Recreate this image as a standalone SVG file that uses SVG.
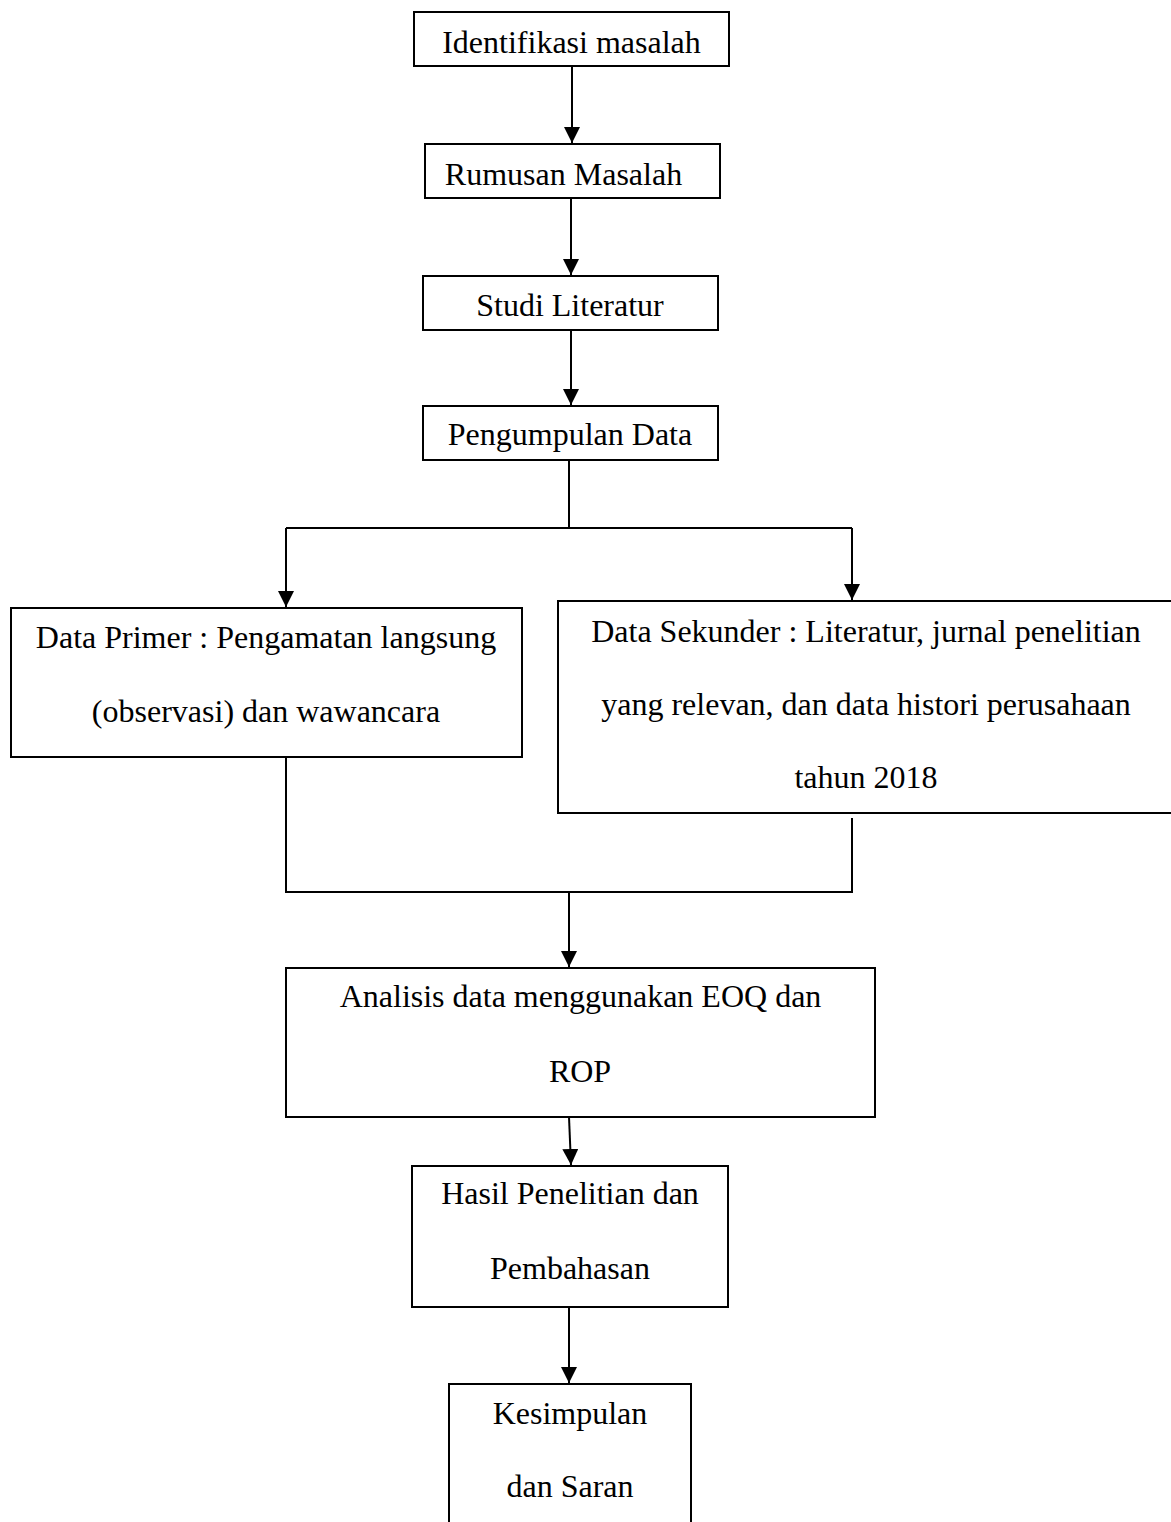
<svg xmlns="http://www.w3.org/2000/svg" width="1171" height="1522" viewBox="0 0 1171 1522">
<defs>
<style>
.box{fill:#fff;stroke:#000;stroke-width:2}
.t{font-family:"Liberation Serif","Times New Roman",serif;font-size:32px;fill:#000;text-anchor:middle}
.c{fill:none;stroke:#000;stroke-width:2}
</style>
<marker id="ah" viewBox="0 0 16 16" refX="16" refY="8" markerWidth="16" markerHeight="16" markerUnits="userSpaceOnUse" orient="auto">
<path d="M0,0 L16,8 L0,16 z" fill="#000"/>
</marker>
</defs>
<rect width="1171" height="1522" fill="#fff"/>
<g id="connectors">
<line class="c" x1="572" y1="66" x2="572" y2="143" marker-end="url(#ah)"/>
<line class="c" x1="571" y1="198" x2="571" y2="275" marker-end="url(#ah)"/>
<line class="c" x1="571" y1="330" x2="571" y2="405" marker-end="url(#ah)"/>
<polyline class="c" points="569,460 569,528"/>
<polyline class="c" points="286,528 852,528"/>
<line class="c" x1="286" y1="528" x2="286" y2="607" marker-end="url(#ah)"/>
<line class="c" x1="852" y1="528" x2="852" y2="600" marker-end="url(#ah)"/>
<polyline class="c" points="286,757 286,892 852,892 852,818"/>
<line class="c" x1="569" y1="892" x2="569" y2="967" marker-end="url(#ah)"/>
<line class="c" x1="569" y1="1117" x2="571" y2="1165" marker-end="url(#ah)"/>
<line class="c" x1="569" y1="1307" x2="569" y2="1383" marker-end="url(#ah)"/>
</g>
<g id="n1"><rect class="box" x="414" y="12" width="315" height="54"/><text class="t" x="571.5" y="53">Identifikasi masalah</text></g>
<g id="n2"><rect class="box" x="425" y="144" width="295" height="54"/><text class="t" x="563.5" y="185">Rumusan Masalah</text></g>
<g id="n3"><rect class="box" x="423" y="276" width="295" height="54"/><text class="t" x="570" y="316">Studi Literatur</text></g>
<g id="n4"><rect class="box" x="423" y="406" width="295" height="54"/><text class="t" x="570" y="445">Pengumpulan Data</text></g>
<g id="n5"><rect class="box" x="11" y="608" width="511" height="149"/><text class="t" x="266" y="648">Data Primer : Pengamatan langsung</text><text class="t" x="266" y="722">(observasi) dan wawancara</text></g>
<g id="n6"><rect class="box" x="558" y="601" width="620" height="212"/><text class="t" x="866" y="642">Data Sekunder : Literatur, jurnal penelitian</text><text class="t" x="866" y="715">yang relevan, dan data histori perusahaan</text><text class="t" x="866" y="788">tahun 2018</text></g>
<g id="n7"><rect class="box" x="286" y="968" width="589" height="149"/><text class="t" x="580.5" y="1007">Analisis data menggunakan EOQ dan</text><text class="t" x="580" y="1082">ROP</text></g>
<g id="n8"><rect class="box" x="412" y="1166" width="316" height="141"/><text class="t" x="570" y="1204">Hasil Penelitian dan</text><text class="t" x="570" y="1279">Pembahasan</text></g>
<g id="n9"><rect class="box" x="449" y="1384" width="242" height="160"/><text class="t" x="570" y="1424">Kesimpulan</text><text class="t" x="570" y="1497">dan Saran</text></g>
</svg>
